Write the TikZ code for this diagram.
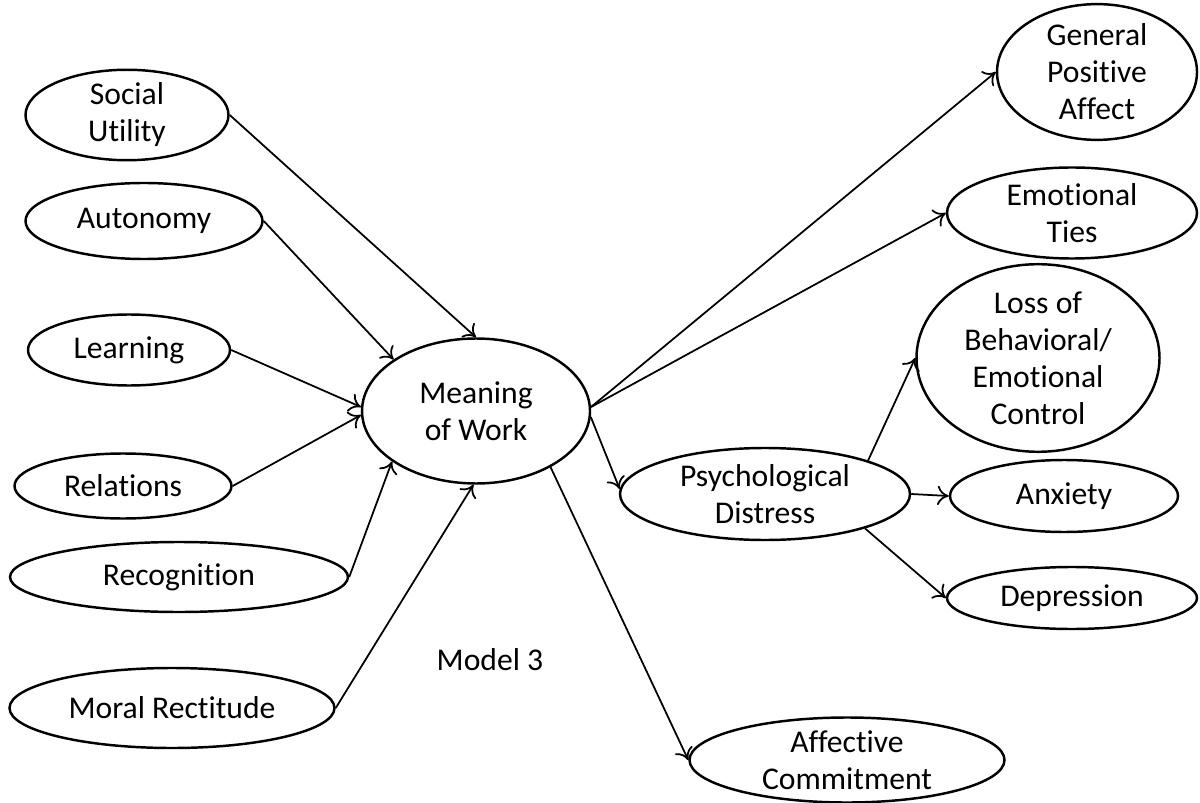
\documentclass[tikz,border=0pt]{standalone}
\usepackage{fontspec}
\setmainfont{Carlito}[Ligatures=NoCommon]
\usetikzlibrary{shapes.geometric, arrows.meta, positioning}

\begin{document}
\begin{tikzpicture}[>={To[length=6.5pt,width=11pt]},
   construct/.style={draw, ellipse, line width=1.4pt, inner sep=0pt, align=center,
      font=\fontsize{18}{21}\selectfont},
   link/.style={->, line width=1pt}]
   \useasboundingbox (0,0) rectangle (24,-16.06);

   % antecedents
   \node[construct, minimum width=4.06cm, minimum height=1.72cm] (su) at (2.54,-2.30) {Social\\Utility};
   \node[construct, minimum width=4.74cm, minimum height=1.52cm] (au) at (2.88,-4.42) {Autonomy};
   \node[construct, minimum width=4.04cm, minimum height=1.42cm] (le) at (2.58,-7.00) {Learning};
   \node[construct, minimum width=4.34cm, minimum height=1.30cm] (re) at (2.46,-9.72) {Relations};
   \node[construct, minimum width=6.76cm, minimum height=1.40cm] (rc) at (3.58,-11.54) {Recognition};
   \node[construct, minimum width=6.50cm, minimum height=1.60cm] (mr) at (3.44,-14.16) {Moral Rectitude};

   % mediator
   \node[construct, minimum width=4.56cm, minimum height=2.90cm] (mw) at (9.52,-8.22) {Meaning\\of Work};
   \node[font=\fontsize{18}{21}\selectfont] (m3) at (9.80,-13.20) {Model 3};

   % outcomes
   \node[construct, minimum width=5.80cm, minimum height=1.84cm] (pd) at (15.30,-9.88) {Psychological\\Distress};
   \node[construct, minimum width=6.30cm, minimum height=1.70cm] (ac) at (16.94,-15.20) {Affective\\Commitment};
   \node[construct, minimum width=4.00cm, minimum height=2.60cm] (gp) at (21.94,-1.44) {General\\Positive\\Affect};
   \node[construct, minimum width=5.00cm, minimum height=1.82cm] (et) at (21.44,-4.26) {Emotional\\Ties};
   \node[construct, minimum width=4.86cm, minimum height=3.26cm] (lo) at (20.76,-7.16) {Loss of\\Behavioral/\\Emotional\\Control};
   \node[construct, minimum width=4.56cm, minimum height=1.44cm] (an) at (21.28,-9.92) {Anxiety};
   \node[construct, minimum width=5.00cm, minimum height=1.24cm] (de) at (21.44,-11.96) {Depression};

   \path[link]
   (su.east) edge (mw.north)
   (au.east) edge (mw.148)
   (le.east) edge (mw.178)
   (re.east) edge (mw.182)
   (rc.east) edge (mw.211)
   (mr.east) edge (mw.268)
   (mw.2)    edge (gp.west)
             edge (et.west)
   (mw.-3)   edge (pd.178)
   (mw.-37)  edge (ac.west)
   (pd.18)   edge (lo.west)
   (pd.east) edge (an.west)
   (pd.-19)  edge (de.west);
\end{tikzpicture}
\end{document}
